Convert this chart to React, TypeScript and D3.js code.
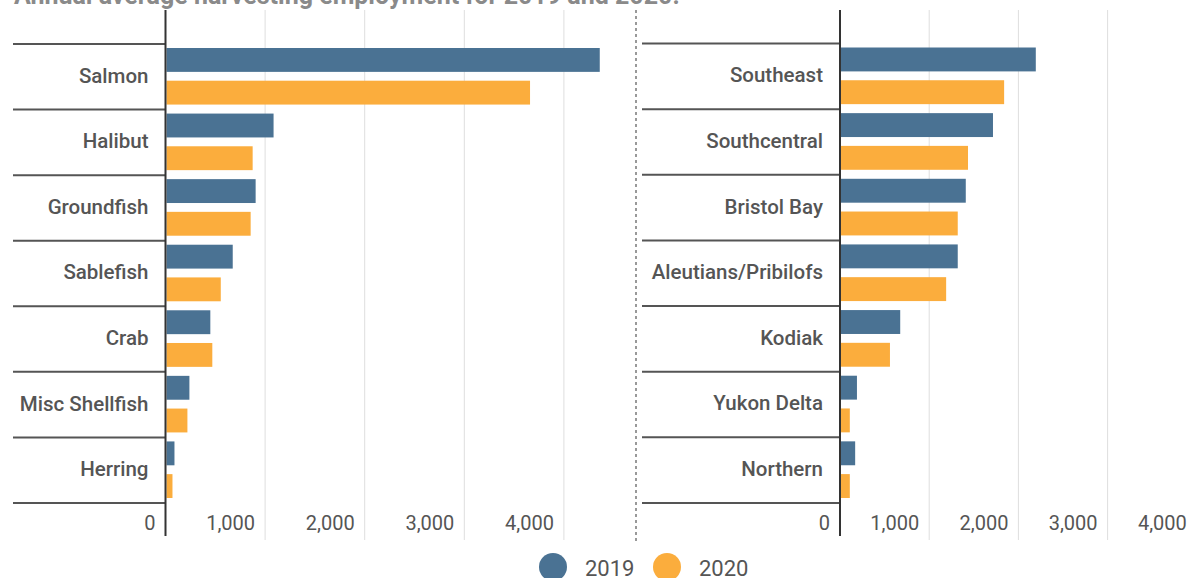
import React from "react";
import * as d3 from "d3";

// Annual average harvesting employment, by species and by region
const years = ["2019", "2020"];

const species = ["Salmon", "Halibut", "Groundfish", "Sablefish", "Crab", "Misc Shellfish", "Herring"];
const species2019 = [4360, 1085, 905, 675, 450, 240, 90];
const species2020 = [3660, 875, 855, 555, 470, 220, 70];

const regions = ["Southeast", "Southcentral", "Bristol Bay", "Aleutians/Pribilofs", "Kodiak", "Yukon Delta", "Northern"];
const regions2019 = [2195, 1715, 1410, 1320, 675, 190, 170];
const regions2020 = [1840, 1435, 1320, 1190, 560, 110, 110];

const tickValues = [0, 1000, 2000, 3000, 4000];

const W = 1190;
const H = 578;
const BLUE = "#4a7293";
const ORANGE = "#fbad3d";
const TEXT = "#555";
const FONT = "Roboto, 'Noto Sans', sans-serif";

type PanelProps = {
  cats: string[];
  v2019: number[];
  v2020: number[];
  lineX0: number;
  zeroX: number;
  pxPer1000: number;
  top: number;
};

function Panel({ cats, v2019, v2020, lineX0, zeroX, pxPer1000, top }: PanelProps) {
  const bottom = 503;
  const x = d3.scaleLinear().domain([0, 4000]).range([zeroX, zeroX + pxPer1000 * 4]);
  const y = d3.scaleBand<string>().domain(cats).range([top, bottom]).padding(0);
  const rowH = y.bandwidth();
  const inner = d3.scaleBand<string>().domain(years).range([4, rowH - 5]).paddingInner(0.27);
  const series = [v2019, v2020];
  const colors = [BLUE, ORANGE];

  return (
    <g>
      {/* grid lines */}
      {tickValues.slice(1).map((t) => (
        <line key={"g" + t} x1={x(t)} x2={x(t)} y1={10} y2={540} stroke="#dedede" strokeWidth={1} />
      ))}
      {/* bars */}
      {cats.map((c, i) =>
        series.map((s, k) => (
          <rect
            key={c + k}
            x={x(0) + 1}
            y={(y(c) as number) + (inner(years[k]) as number)}
            width={Math.max(0, x(s[i]) - x(0) - 1)}
            height={inner.bandwidth()}
            fill={colors[k]}
          />
        ))
      )}
      {/* row separators */}
      {d3.range(cats.length + 1).map((i) => {
        const yy = top + i * rowH;
        return <line key={"r" + i} x1={lineX0} x2={zeroX} y1={yy} y2={yy} stroke="#555" strokeWidth={2} />;
      })}
      {/* category labels */}
      {cats.map((c) => (
        <text
          key={"l" + c}
          x={zeroX - 17}
          y={(y(c) as number) + rowH / 2 + 0.5}
          textAnchor="end"
          dominantBaseline="middle"
          fontFamily={FONT}
          fontWeight={500}
          fontSize={20.5}
          fill={TEXT}
        >
          {c}
        </text>
      ))}
      {/* zero axis */}
      <line x1={zeroX} x2={zeroX} y1={10} y2={536} stroke="#333" strokeWidth={2} />
      {/* tick labels */}
      {tickValues.map((t) => (
        <text
          key={"t" + t}
          x={x(t) - 10}
          y={530}
          textAnchor="end"
          fontFamily={FONT}
          fontSize={20}
          fill={TEXT}
        >
          {d3.format(",")(t)}
        </text>
      ))}
    </g>
  );
}

export default function App() {
  return (
    <svg
      width={W}
      height={H}
      viewBox={`0 0 ${W} ${H}`}
      style={{ position: "absolute", left: 0, top: 0, background: "#fff" }}
    >
      <text x={14} y={4} fontFamily={FONT} fontWeight={700} fontSize={25} fill="#8a8a8a">
        Annual average harvesting employment for 2019 and 2020.
      </text>

      <Panel cats={species} v2019={species2019} v2020={species2020} lineX0={13} zeroX={165.5} pxPer1000={99.6} top={44} />
      <Panel cats={regions} v2019={regions2019} v2020={regions2020} lineX0={642} zeroX={840} pxPer1000={89.2} top={43.5} />

      {/* panel divider */}
      <line x1={636} x2={636} y1={10} y2={542} stroke="#999" strokeWidth={2} strokeDasharray="3,3" />

      {/* legend */}
      {years.map((yr, i) => {
        const cx = 553 + i * 114;
        return (
          <g key={yr}>
            <circle cx={cx} cy={567} r={14} fill={i === 0 ? BLUE : ORANGE} />
            <text x={cx + 32} y={576} fontFamily={FONT} fontSize={22} fill={TEXT}>
              {yr}
            </text>
          </g>
        );
      })}
    </svg>
  );
}
